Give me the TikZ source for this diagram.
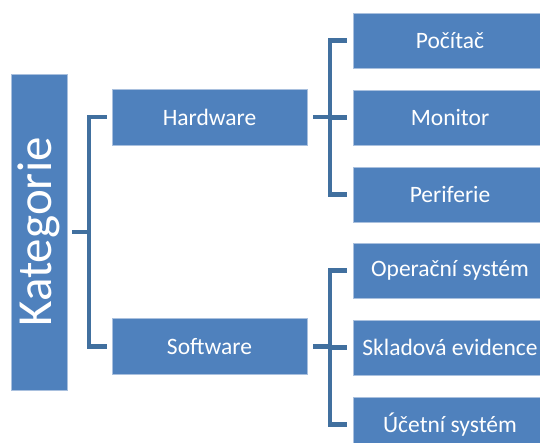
\documentclass[tikz,border=0pt]{standalone}
\usepackage{fontspec}
\setmainfont{Carlito}
\definecolor{boxblue}{HTML}{4F81BD}
\definecolor{boxedge}{HTML}{A9C0DE}
\definecolor{connblue}{HTML}{41709F}
\tikzset{
  catbox/.style={rectangle, fill=boxblue, draw=boxedge, line width=0.8pt, text=white, inner sep=0pt},
  midbox/.style={catbox, minimum width=195pt, minimum height=56pt, font=\fontsize{23.5}{28}\selectfont},
  leafbox/.style={catbox, minimum width=194pt, minimum height=55pt, font=\fontsize{23.5}{28}\selectfont},
  conn/.style={draw=connblue, line width=4.5pt, line join=miter}
}
\begin{document}
\begin{tikzpicture}[x=1pt, y=-1pt]
\useasboundingbox (0,0) rectangle (540,443);
\clip (0,0) rectangle (540,443);
\node[catbox, minimum width=56pt, minimum height=316pt] (kat) at (39,232) {};
\node[rotate=90, text=white, font=\fontsize{49}{58}\selectfont, inner sep=0pt] (katlabel) at (kat.center) {Kategorie};
\node[midbox] (hw) at (209.5,117) {Hardware};
\node[midbox] (sw) at (209.5,346.5) {Software};
\node[leafbox] (c1) at (450,40.5) {Počítač};
\node[leafbox] (c2) at (450,117.5) {Monitor};
\node[leafbox] (c3) at (450,194.5) {Periferie};
\node[leafbox] (c4) at (450,270.5) {Operační systém};
\node[leafbox] (c5) at (450,347.5) {Skladová evidence};
\node[leafbox] (c6) at (450,424.5) {Účetní systém};
\coordinate (j1) at (89,232);
\coordinate (j2) at (330,117.5);
\coordinate (j3) at (330,347.5);
\draw[conn] ([xshift=5pt]kat.east) -- (j1);
\draw[conn] ([xshift=-5pt]hw.west) -| (j1) |- ([xshift=-5pt]sw.west);
\draw[conn] ([xshift=6pt]hw.east) -- (j2 |- hw.east);
\draw[conn] ([xshift=-6pt]c1.west) -| (j2) |- ([xshift=-6pt]c3.west);
\draw[conn] ([xshift=-6pt]c2.west) -- (j2 |- c2.west);
\draw[conn] ([xshift=6pt]sw.east) -- (j3 |- sw.east);
\draw[conn] ([xshift=-6pt]c4.west) -| (j3) |- ([xshift=-6pt]c6.west);
\draw[conn] ([xshift=-6pt]c5.west) -- (j3 |- c5.west);
\end{tikzpicture}
\end{document}
